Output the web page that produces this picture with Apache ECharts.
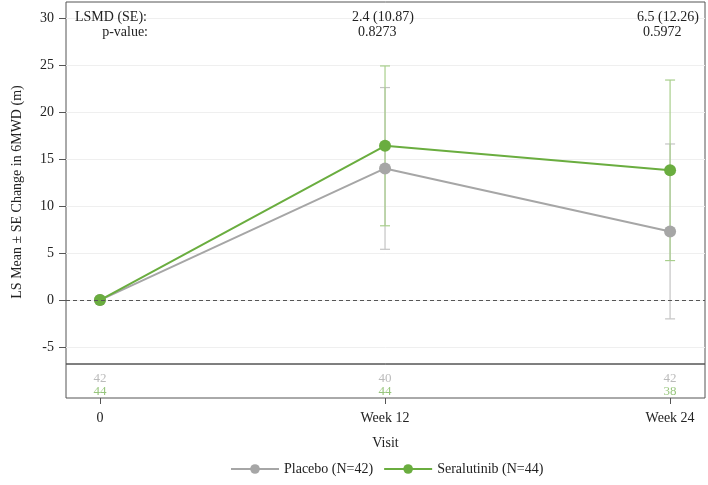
<!DOCTYPE html>
<html>
<head>
<meta charset="utf-8">
<script src="https://cdn.jsdelivr.net/npm/echarts@6/dist/echarts.min.js"></script>
<style>
  html, body { margin: 0; padding: 0; background: #fff; }
  #main { width: 708px; height: 485px; }
</style>
</head>
<body>
<div id="main"></div>
<script>
// data
var weeks = [0, 12, 24];
var visitLabels = ['0', 'Week 12', 'Week 24'];
var placeboMean = [0, 14.0, 7.3];
var placeboSE = [0, 8.6, 9.3];
var seraMean = [0, 16.4, 13.8];
var seraSE = [0, 8.5, 9.6];
var placeboN = [42, 40, 42];
var seraN = [44, 44, 38];
var yTicks = [-5, 0, 5, 10, 15, 20, 25, 30];
var lsmdWeeks = [12, 24];
var lsmdText = ['2.4 (10.87)', '6.5 (12.26)'];
var pValues = ['0.8273', '0.5972'];

var FONT = '"Liberation Serif", "DejaVu Serif", serif';
var GRAY = '#a6a6a6', GREEN = '#6aad3f';
var GRAY_BAR = '#c4c4c4', GREEN_BAR = '#a8cf8c';

function pairs(xs, ys) {
    return xs.map(function (x, i) { return [x, ys[i]]; });
}
function bars(xs, m, se) {
    var out = [];
    xs.forEach(function (x, i) {
        if (se[i] > 0) out.push([x, m[i] - se[i], m[i] + se[i]]);
    });
    return out;
}
function errorBar(color) {
    return function (params, api) {
        var lo = api.coord([api.value(0), api.value(1)]);
        var hi = api.coord([api.value(0), api.value(2)]);
        var w = 5;
        var st = { stroke: color, lineWidth: 1.2 };
        return {
            type: 'group',
            children: [
                { type: 'line', shape: { x1: lo[0], y1: lo[1], x2: hi[0], y2: hi[1] }, style: st },
                { type: 'line', shape: { x1: lo[0] - w, y1: lo[1], x2: lo[0] + w, y2: lo[1] }, style: st },
                { type: 'line', shape: { x1: hi[0] - w, y1: hi[1], x2: hi[0] + w, y2: hi[1] }, style: st }
            ]
        };
    };
}
function counts(xs, ns, yPos) {
    return xs.map(function (x, i) { return [x, yPos, ns[i]]; });
}

var xMin = -1.43, xMax = 25.47;
var chart = echarts.init(document.getElementById('main'));
chart.setOption({
    animation: false,
    textStyle: { fontFamily: FONT },
    grid: [
        { left: 66, right: 3, top: 2, height: 362, show: true, borderColor: '#555', borderWidth: 1 },
        { left: 66, right: 3, top: 364, height: 34, show: true, borderColor: '#555', borderWidth: 1 }
    ],
    xAxis: [
        { type: 'value', gridIndex: 0, min: xMin, max: xMax, show: false },
        {
            type: 'value', gridIndex: 1, min: xMin, max: xMax,
            axisLine: { show: false, onZero: false },
            axisTick: { show: true, customValues: weeks, length: 6, lineStyle: { color: '#555' } },
            axisLabel: {
                customValues: weeks, color: '#222', fontSize: 14, fontFamily: FONT, margin: 13,
                formatter: function (v) { return visitLabels[weeks.indexOf(v)]; }
            },
            splitLine: { show: false },
            name: 'Visit', nameLocation: 'middle', nameGap: 38,
            nameTextStyle: { color: '#222', fontSize: 14, fontFamily: FONT }
        }
    ],
    yAxis: [
        {
            type: 'value', gridIndex: 0, min: -6.8, max: 31.7,
            axisLine: { show: false, onZero: false },
            axisTick: { show: true, customValues: yTicks, length: 7, lineStyle: { color: '#555' } },
            axisLabel: { customValues: yTicks, color: '#222', fontSize: 14, fontFamily: FONT, margin: 12 },
            splitLine: { show: true, lineStyle: { color: '#efefef', width: 1 } }
        },
        { type: 'value', gridIndex: 1, min: 0, max: 2, show: false }
    ],
    legend: {
        left: 225, top: 457,
        itemWidth: 48, itemHeight: 12, itemGap: 10,
        textStyle: { color: '#222', fontSize: 14, fontFamily: FONT },
        data: ['Placebo (N=42)', 'Seralutinib (N=44)']
    },
    series: [
        {
            type: 'custom', name: 'pbar', xAxisIndex: 0, yAxisIndex: 0, z: 1,
            renderItem: errorBar(GRAY_BAR), data: bars(weeks, placeboMean, placeboSE),
            encode: { x: 0, y: [1, 2] }, silent: true
        },
        {
            type: 'custom', name: 'sbar', xAxisIndex: 0, yAxisIndex: 0, z: 1,
            renderItem: errorBar(GREEN_BAR), data: bars(weeks, seraMean, seraSE),
            encode: { x: 0, y: [1, 2] }, silent: true
        },
        {
            type: 'line', name: 'Placebo (N=42)', xAxisIndex: 0, yAxisIndex: 0, z: 3,
            data: pairs(weeks, placeboMean),
            symbol: 'circle', symbolSize: 12,
            lineStyle: { color: GRAY, width: 2 }, itemStyle: { color: GRAY },
            markLine: {
                silent: true, symbol: 'none', label: { show: false },
                lineStyle: { color: '#555', type: [4, 3], width: 1 },
                data: [{ yAxis: 0 }]
            }
        },
        {
            type: 'line', name: 'Seralutinib (N=44)', xAxisIndex: 0, yAxisIndex: 0, z: 4,
            data: pairs(weeks, seraMean),
            symbol: 'circle', symbolSize: 12,
            lineStyle: { color: GREEN, width: 2 }, itemStyle: { color: GREEN }
        },
        {
            type: 'scatter', xAxisIndex: 1, yAxisIndex: 1, symbolSize: 0, silent: true,
            data: counts(weeks, placeboN, 1.16),
            label: { show: true, position: 'inside', color: '#aaa', fontSize: 13, fontFamily: FONT,
                formatter: function (p) { return p.value[2]; } }
        },
        {
            type: 'scatter', xAxisIndex: 1, yAxisIndex: 1, symbolSize: 0, silent: true,
            data: counts(weeks, seraN, 0.36),
            label: { show: true, position: 'inside', color: '#7cb65a', fontSize: 13, fontFamily: FONT,
                formatter: function (p) { return p.value[2]; } }
        }
    ]
});

// header annotations + rotated y title
var F = '14px ' + FONT;
var hdr = [
    { type: 'text', x: 75, y: 10, style: { text: 'LSMD (SE):', font: F, fill: '#222' } },
    { type: 'text', x: 148, y: 25, style: { text: 'p-value:', font: F, fill: '#222', textAlign: 'right' } },
    { type: 'text', x: 17, y: 192, rotation: Math.PI / 2,
      style: { text: 'LS Mean \u00b1 SE Change in 6MWD (m)', font: F, fill: '#222', textAlign: 'center', textVerticalAlign: 'middle' } }
];
lsmdWeeks.forEach(function (w, i) {
    var px = chart.convertToPixel({ xAxisIndex: 0 }, w);
    hdr.push({ type: 'text', x: px - 33, y: 10, style: { text: lsmdText[i], font: F, fill: '#222' } });
    hdr.push({ type: 'text', x: px - 27, y: 25, style: { text: pValues[i], font: F, fill: '#222' } });
});
chart.setOption({ graphic: hdr });
</script>
</body>
</html>
